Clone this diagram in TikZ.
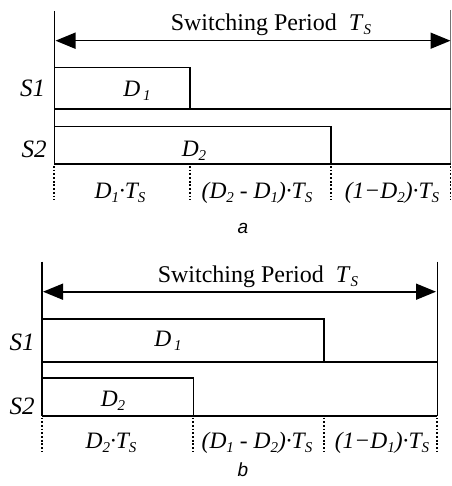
\documentclass[tikz,border=0pt]{standalone}
\usepackage{fontspec}
\setmainfont{Liberation Serif}
\newfontfamily\capfont{Liberation Sans}
\usetikzlibrary{arrows.meta}
\newcommand\sbs[1]{\raisebox{-4pt}{\fontsize{15}{15}\selectfont\itshape #1}}
\begin{document}
\begin{tikzpicture}[x=1pt,y=-1pt,line width=1.6pt,
  lbl/.style={font=\fontsize{23.5}{24}\selectfont\itshape,inner sep=0pt,anchor=base},
  slbl/.style={font=\fontsize{25}{25}\selectfont\itshape,inner sep=0pt,anchor=base},
  ttl/.style={font=\fontsize{24}{24}\selectfont,inner sep=0pt,anchor=base west},
  subcap/.style={font=\capfont\itshape\fontsize{19}{19}\selectfont,inner sep=0pt},
  dots/.style={line width=1.8pt,dash pattern=on 1.8pt off 1.9pt},
  dimarrow/.style={{Triangle[length=20pt,width=16pt]}-{Triangle[length=20pt,width=16pt]}}]
\useasboundingbox (0,0) rectangle (451,486);
% ---------------- panel a ----------------
\coordinate (aTL) at (54.3,11);
\coordinate (aBL) at (54.3,165);
\coordinate (aTR) at (450.5,10);
\coordinate (aBR) at (450.5,164.3);
\coordinate (aAL) at (55.5,40.7);
\coordinate (aAR) at (450.5,40.7);
\coordinate (aS1tl) at (54.3,67.7);
\coordinate (aS1tr) at (190,67.7);
\coordinate (aS1br) at (190,109.3);
\coordinate (aS1bl) at (54.3,109.3);
\coordinate (aS1be) at (451,109.3);
\coordinate (aS2tl) at (54.3,126.7);
\coordinate (aS2tr) at (331,126.7);
\coordinate (aS2br) at (331,164.3);
\coordinate (aBE) at (451,164.3);
\draw (aTL) -- (aBL);
\draw[line width=0.8pt,black!55] (aTR) -- (aBR);
\draw[dimarrow] (aAL) -- (aAR);
\draw (aS1tl) -- (aS1tr) -- (aS1br);
\draw (aS1bl) -- (aS1be);
\draw (aS2tl) -- (aS2tr) -- (aS2br);
\draw (54.3,164.3) -- (aBE);
\foreach \x [count=\i] in {54.3,190,331,450.5}{
  \coordinate (aD\i t) at (\x,166);
  \coordinate (aD\i b) at (\x,200);
  \draw[dots] (aD\i t) -- (aD\i b);
}
\node[ttl] (aTitle) at (170,30.7) {Switching Period\hspace{12pt}\textit{T}\sbs{S}};
\node[slbl] (aS1) at (32.5,97) {S1};
\node[slbl] (aS2) at (34,158) {S2};
\node[lbl] (aD1) at (137,97) {D\hspace{3pt}\sbs{1}};
\node[lbl] (aD2) at (194,157) {D\sbs{2}};
\node[lbl] (aL1) at (120,198) {D\sbs{1}·T\sbs{S}};
\node[lbl] (aL2) at (257,198) {(D\sbs{2} - D\sbs{1})·T\sbs{S}};
\node[lbl] (aL3) at (392,198) {(1−D\sbs{2})·T\sbs{S}};
\node[subcap] (aCap) at (243,228) {a};
% ---------------- panel b ----------------
\coordinate (bTL) at (41.7,261.7);
\coordinate (bBL) at (41.7,415.7);
\coordinate (bTR) at (437.3,261.7);
\coordinate (bBR) at (437.3,415.7);
\coordinate (bAL) at (43,291.7);
\coordinate (bAR) at (436,291.7);
\coordinate (bS1tl) at (41.7,319);
\coordinate (bS1tr) at (324,319);
\coordinate (bS1br) at (324,361.7);
\coordinate (bS1bl) at (41.7,361.7);
\coordinate (bS1be) at (437.3,361.7);
\coordinate (bS2tl) at (41.7,377.7);
\coordinate (bS2tr) at (193.3,377.7);
\coordinate (bS2br) at (193.3,415.7);
\draw (bTL) -- (bBL);
\draw (bTR) -- (bBR);
\draw[dimarrow] (bAL) -- (bAR);
\draw (bS1tl) -- (bS1tr) -- (bS1br);
\draw (bS1bl) -- (bS1be);
\draw (bS2tl) -- (bS2tr) -- (bS2br);
\draw (bBL) -- (bBR);
\foreach \x [count=\i] in {41.7,193.3,324,437.3}{
  \coordinate (bD\i t) at (\x,417.5);
  \coordinate (bD\i b) at (\x,452);
  \draw[dots] (bD\i t) -- (bD\i b);
}
\node[ttl] (bTitle) at (157,282.7) {Switching Period\hspace{12pt}\textit{T}\sbs{S}};
\node[slbl] (bS1) at (22,350) {S1};
\node[slbl] (bS2) at (22,414) {S2};
\node[lbl] (bD1) at (168,346.7) {D\hspace{3pt}\sbs{1}};
\node[lbl] (bD2) at (113,406.7) {D\sbs{2}};
\node[lbl] (bL1) at (111,448.3) {D\sbs{2}·T\sbs{S}};
\node[lbl] (bL2) at (257,448.3) {(D\sbs{1} - D\sbs{2})·T\sbs{S}};
\node[lbl] (bL3) at (382,448.3) {(1−D\sbs{1})·T\sbs{S}};
\node[subcap] (bCap) at (243,470) {b};
\end{tikzpicture}
\end{document}
